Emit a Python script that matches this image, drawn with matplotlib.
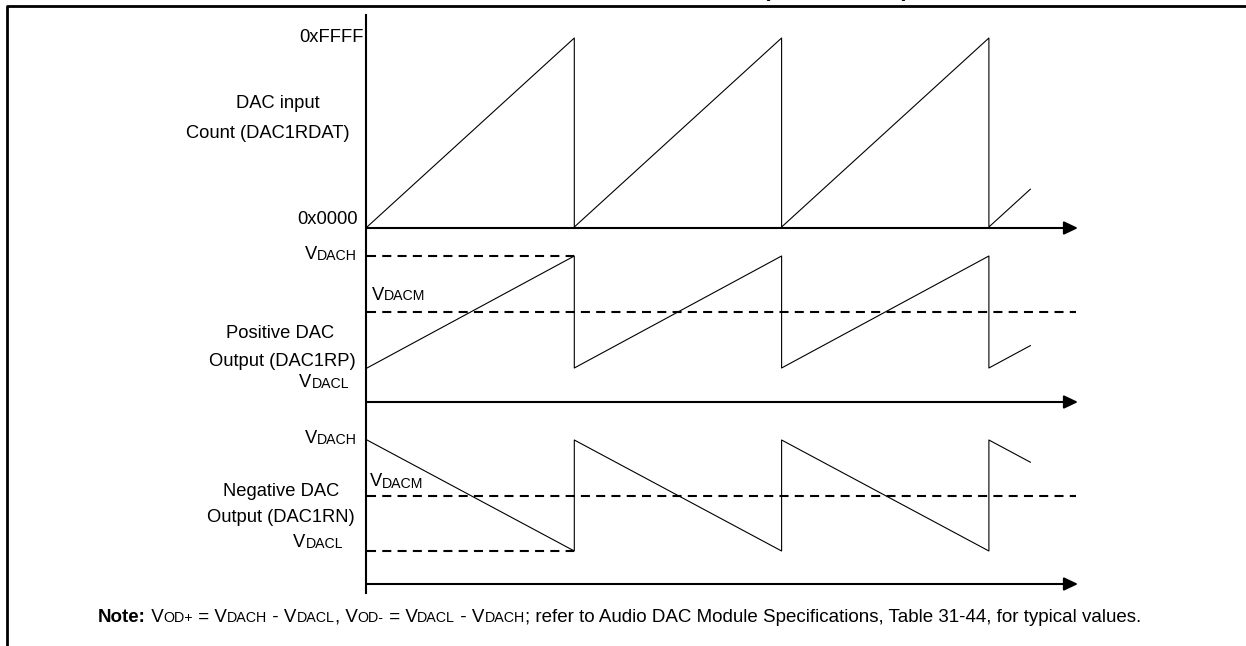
import matplotlib
matplotlib.use("Agg")
import matplotlib.pyplot as plt

plt.rcParams['font.family'] = ['Liberation Sans', 'DejaVu Sans']
plt.rcParams['lines.scale_dashes'] = False

# waveform data, time in DAC ramp periods
ramp_t = [0, 1, 1, 2, 2, 3, 3, 3.2]
dac_count = [0x0000, 0xFFFF, 0x0000, 0xFFFF, 0x0000, 0xFFFF, 0x0000, 0x3333]
dac_pos = [0.0, 1.0, 0.0, 1.0, 0.0, 1.0, 0.0, 0.2]   # 0 = VDACL, 1 = VDACH
dac_neg = [1.0, 0.0, 1.0, 0.0, 1.0, 0.0, 1.0, 0.8]
VDACL, VDACM, VDACH = 0.0, 0.5, 1.0
t_axis_end = 3.42

# layout in pixels
W, H = 1246, 646
X0, PX_T = 367, 207.3

fig = plt.figure(figsize=(W / 100, H / 100), dpi=100)

# pixel overlay for frame, axes and text
ax0 = fig.add_axes([0, 0, 1, 1], label="overlay")
ax0.set_xlim(0, W)
ax0.set_ylim(H, 0)
ax0.axis("off")


def band(name, v_a, py_a, v_b, py_b):
    # full-figure axes, time on x, panel value on y
    ax = fig.add_axes([0, 0, 1, 1], label=name)
    ax.set_xlim(-X0 / PX_T, (W - X0) / PX_T)
    s = (v_b - v_a) / (py_a - py_b)
    ax.set_ylim(v_a - (H - py_a) * s, v_a + py_a * s)
    ax.axis("off")
    ax.patch.set_visible(False)
    return ax


ax_top = band("count", 0x0000, 227, 0xFFFF, 38)
ax_mid = band("pos", VDACL, 368, VDACH, 256)
ax_bot = band("neg", VDACL, 551, VDACH, 440)

# frame
ax0.plot([7, 7, W], [H, 6, 6], color="black", lw=2.0, solid_capstyle="butt")
ax0.plot([366, 366], [15, 593], color="black", lw=1.5)
for y in [228, 402, 584]:
    ax0.annotate("", xy=(1078, y), xytext=(366, y),
                 arrowprops=dict(arrowstyle="-|>,head_length=0.42,head_width=0.2",
                                 mutation_scale=20, lw=1.5, color="black",
                                 shrinkA=0, shrinkB=0))

# waveforms
ax_top.plot(ramp_t, dac_count, color="black", lw=0.8)
ax_mid.plot(ramp_t, dac_pos, color="black", lw=0.8)
ax_bot.plot(ramp_t, dac_neg, color="black", lw=0.8)

dash = dict(color="black", lw=1.5, linestyle=(0, (6.5, 4.5)))
ax_mid.plot([0, 1], [VDACH, VDACH], **dash)
ax_mid.plot([0, t_axis_end], [VDACM, VDACM], **dash)
ax_bot.plot([0, t_axis_end], [VDACM, VDACM], **dash)
ax_bot.plot([0, 1], [VDACL, VDACL], **dash)

BIG, SMALL = 13.2, 10.2


def chain(x, y, parts, ha="left"):
    # draw text pieces side by side; parts = (text, size, weight)
    if ha == "left":
        prev = None
        for txt, sz, wt in parts:
            if prev is None:
                prev = ax0.text(x, y, txt, fontsize=sz, fontweight=wt,
                                ha="left", va="center")
            else:
                prev = ax0.annotate(txt, xy=(1, 0), xycoords=prev, fontsize=sz,
                                    fontweight=wt, ha="left", va="bottom")
    else:
        nxt = None
        for txt, sz, wt in reversed(parts):
            if nxt is None:
                nxt = ax0.text(x, y, txt, fontsize=sz, fontweight=wt,
                               ha="right", va="center")
            else:
                nxt = ax0.annotate(txt, xy=(0, 0), xycoords=nxt, fontsize=sz,
                                   fontweight=wt, ha="right", va="bottom")


def vname(sub):
    return [("V", BIG, "normal"), (sub, SMALL, "normal")]


# top panel labels
ax0.text(364, 37, "0xFFFF", fontsize=BIG, ha="right", va="center")
ax0.text(358, 219, "0x0000", fontsize=BIG, ha="right", va="center")
ax0.text(278, 103, "DAC input", fontsize=BIG, ha="center", va="center")
ax0.text(268, 133, "Count (DAC1RDAT)", fontsize=BIG, ha="center", va="center")

# middle panel labels
chain(357, 256, vname("DACH"), ha="right")
chain(372, 295, vname("DACM"))
ax0.text(280, 334, "Positive DAC", fontsize=BIG, ha="center", va="center")
ax0.text(282, 362, "Output (DAC1RP)", fontsize=BIG, ha="center", va="center")
chain(349, 384, vname("DACL"), ha="right")

# bottom panel labels
chain(357, 440, vname("DACH"), ha="right")
chain(370, 482, vname("DACM"))
ax0.text(281, 491, "Negative DAC", fontsize=BIG, ha="center", va="center")
ax0.text(281, 517, "Output (DAC1RN)", fontsize=BIG, ha="center", va="center")
chain(343, 544, vname("DACL"), ha="right")

# note
NB, NS = 13.5, 10.3
note = [("Note:", NB, "bold"), (" V", NB, "normal"), ("OD+", NS, "normal"),
        (" = V", NB, "normal"), ("DACH", NS, "normal"), (" - V", NB, "normal"),
        ("DACL", NS, "normal"), (", V", NB, "normal"), ("OD-", NS, "normal"),
        (" = V", NB, "normal"), ("DACL", NS, "normal"), (" - V", NB, "normal"),
        ("DACH", NS, "normal"),
        ("; refer to Audio DAC Module Specifications, Table 31-44, for typical values.",
         NB, "normal")]
chain(98, 617, note)

# cut-off figure title
ax0.text(836, -4, "(CONTINUED)", fontsize=16, fontweight="bold",
         ha="center", va="baseline")

fig.savefig("out.png", dpi=100)
